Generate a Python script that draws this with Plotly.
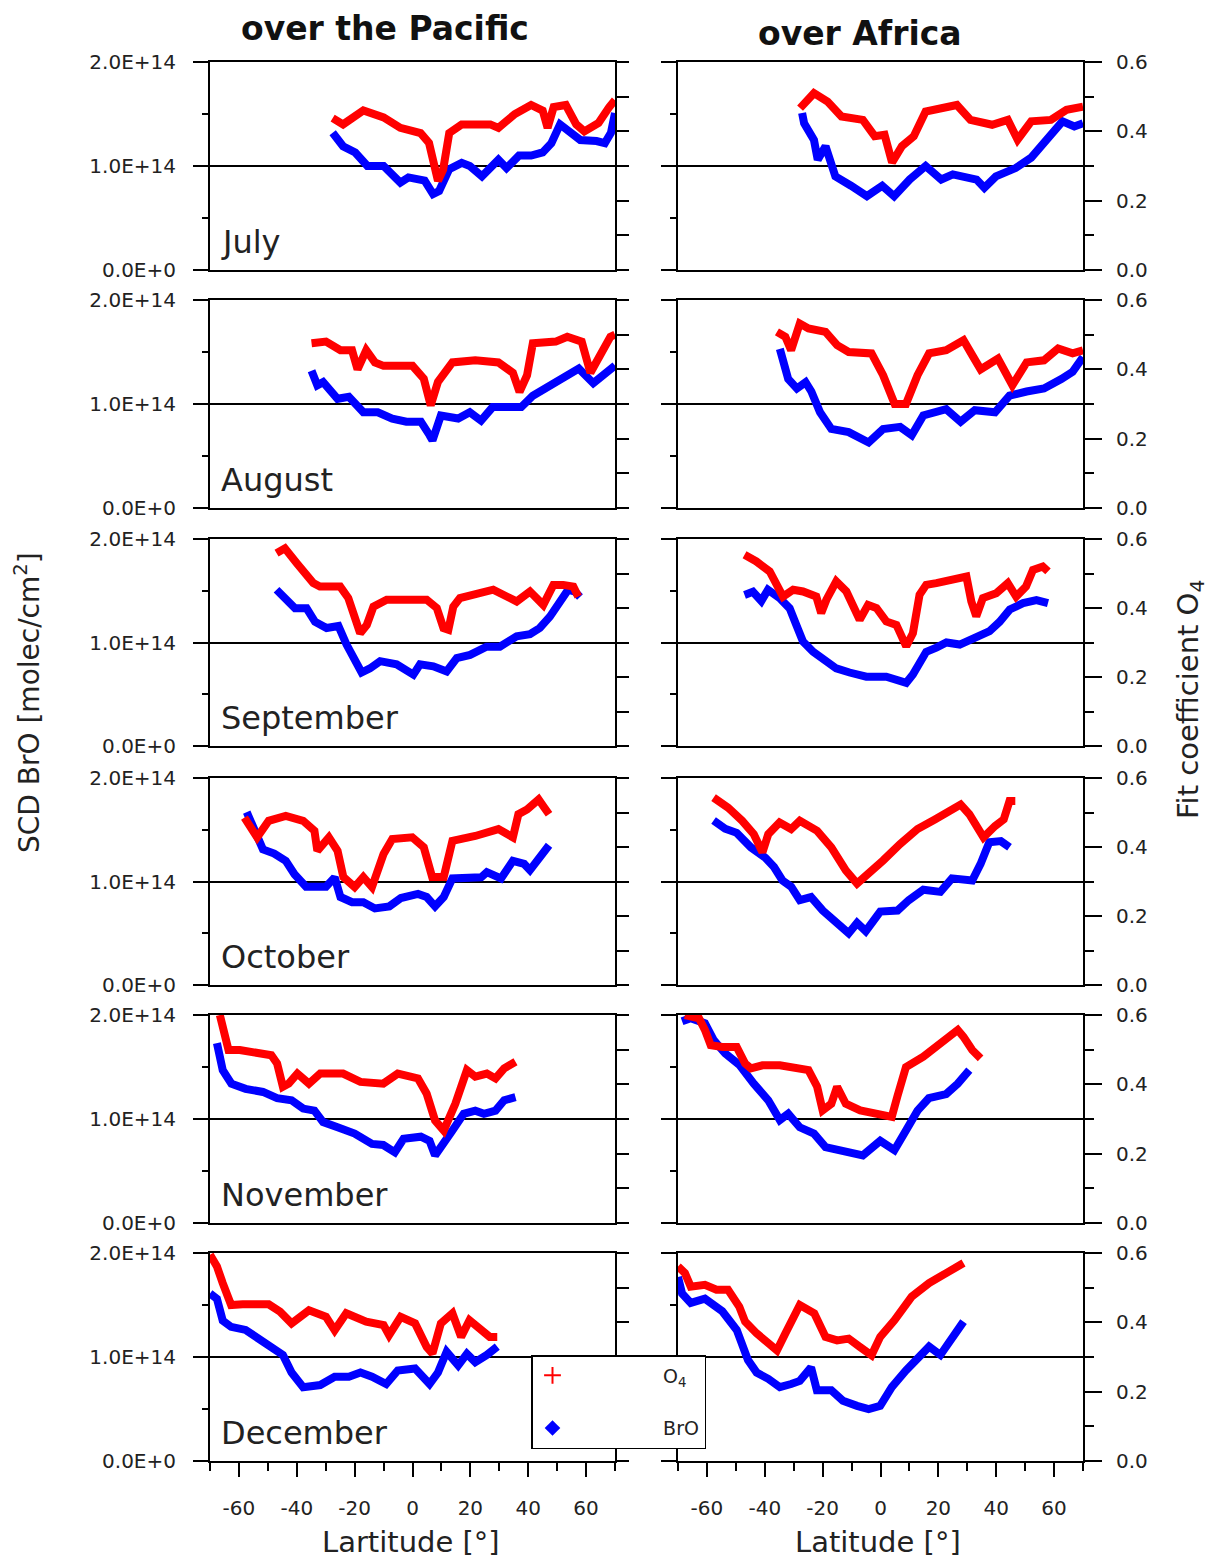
import plotly.graph_objects as go

# ---------------------------------------------------------------------------
# Data: latitude [deg] vs. BrO slant column (in units of 1e14 molec/cm2)
# and O4 fit coefficient, monthly means over the Pacific and over Africa
# ---------------------------------------------------------------------------
months = ["July", "August", "September", "October", "November", "December"]
regions = ["over the Pacific", "over Africa"]

# July
pac_jul_o4_lat = [-27.6, -24, -17, -10, -4.2, 2.8, 5.7, 7.8, 8.8, 10.6, 12.7, 17, 26.9, 29.7, 35.4, 41, 45, 46.7, 48.8, 53, 56.6, 59.4, 64.3, 68, 70]
pac_jul_o4 = [.438, .42, .46, .44, .41, .395, .367, .30, .257, .29, .395, .42, .42, .41, .45, .476, .46, .41, .47, .476, .42, .40, .424, .47, .49]
pac_jul_bro_lat = [-27.6, -24, -19.8, -15.6, -10, -7.1, -4.2, -1.4, 4.2, 7.1, 9.2, 12.7, 17, 19.8, 24, 29.7, 32.5, 36.8, 41, 45, 48, 51, 53.7, 58, 63.6, 66.5, 68.6, 70]
pac_jul_bro = [1.32, 1.19, 1.13, 1.0, 1.0, .92, .84, .89, .86, .73, .76, .97, 1.03, 1.0, .90, 1.06, .98, 1.10, 1.10, 1.13, 1.22, 1.40, 1.35, 1.25, 1.24, 1.22, 1.32, 1.51]
afr_jul_o4_lat = [-27.8, -23, -18.3, -13.5, -6.1, -2, 1.4, 4, 7.4, 11.5, 15.6, 21, 26.4, 31.1, 38.6, 44, 47.4, 52.1, 58.9, 64.3, 70]
afr_jul_o4 = [.467, .51, .486, .443, .433, .386, .39, .31, .357, .386, .457, .467, .476, .433, .419, .433, .376, .429, .433, .462, .471]
afr_jul_bro_lat = [-27.1, -26.4, -23, -21.7, -19, -15.6, -10.2, -4.7, .6, 4.7, 10.1, 15.6, 21, 25, 33.2, 35.9, 39.9, 46.7, 52.1, 57.6, 62.9, 67, 70]
afr_jul_bro = [1.51, 1.41, 1.25, 1.06, 1.19, .90, .81, .71, .81, .71, .87, 1.0, .87, .92, .87, .79, .90, .98, 1.08, 1.25, 1.43, 1.38, 1.41]

# August
pac_aug_o4_lat = [-34.9, -29.9, -24.9, -20.9, -19, -16, -13, -10, 0, 3.9, 6.3, 8.8, 13.8, 21.7, 29.7, 34.7, 37, 39.6, 41.6, 49.5, 53.5, 58.5, 61.5, 65.4, 68.4, 70]
pac_aug_o4 = [.475, .48, .455, .455, .40, .455, .42, .41, .41, .373, .296, .364, .42, .426, .42, .39, .335, .383, .475, .48, .494, .48, .39, .45, .494, .5]
pac_aug_bro_lat = [-34.9, -32.9, -30.9, -25.9, -22, -17, -12, -7, -2.1, 2.9, 5.9, 6.9, 9.8, 15.8, 19.8, 23.7, 27.7, 37.6, 41.6, 47.6, 53.5, 57.5, 62.5, 65.4, 70]
pac_aug_bro = [1.32, 1.18, 1.21, 1.05, 1.07, .92, .92, .86, .83, .83, .70, .65, .89, .86, .92, .84, .97, .97, 1.08, 1.18, 1.28, 1.34, 1.20, 1.26, 1.37]
afr_aug_o4_lat = [-35.8, -32.9, -30.9, -27.9, -24.9, -19, -15, -11, -3.1, .9, 4.9, 8.8, 12.8, 16.8, 22.7, 28.7, 31.7, 34.6, 40.6, 45.6, 50.5, 56.5, 61.4, 66.4, 70]
afr_aug_o4 = [.508, .494, .455, .532, .518, .508, .47, .45, .446, .383, .30, .30, .383, .446, .455, .484, .441, .40, .431, .354, .42, .426, .46, .446, .455]
afr_aug_bro_lat = [-34.8, -31.9, -28.9, -25.9, -23.9, -20.9, -17, -11, -4.1, .9, 6.8, 10.8, 14.8, 22.7, 27.7, 32.6, 39.6, 44.6, 50.5, 56.5, 62.5, 66.4, 70]
afr_aug_bro = [1.53, 1.24, 1.15, 1.21, 1.12, .92, .76, .73, .63, .76, .78, .70, .89, .95, .83, .94, .92, 1.08, 1.12, 1.15, 1.24, 1.31, 1.45]

# September
pac_sep_o4_lat = [-47, -44.1, -40, -34.3, -32, -25, -22.2, -19.9, -18.1, -15.8, -13.5, -8.9, .3, 4.9, 8.4, 10.7, 12.4, 14.1, 16.4, 23.3, 27.9, 36, 40.6, 45.2, 48.7, 52.1, 55.6, 57.3]
pac_sep_o4 = [.559, .573, .53, .472, .462, .462, .429, .361, .327, .351, .404, .424, .424, .424, .40, .342, .337, .404, .429, .443, .453, .419, .448, .409, .467, .467, .462, .433]
pac_sep_bro_lat = [-47, -43.5, -40.6, -36.6, -33.7, -29.7, -25.6, -22.8, -19.9, -17.6, -14.7, -11.2, -5.5, .3, 2.6, 7.2, 11.8, 15.3, 19.9, 25.6, 30.2, 36, 40.6, 44, 47.5, 51, 53.8, 56.2, 57.9]
pac_sep_bro = [1.51, 1.40, 1.33, 1.33, 1.20, 1.14, 1.16, .98, .82, .71, .75, .82, .79, .69, .79, .77, .72, .85, .88, .96, .96, 1.06, 1.08, 1.14, 1.25, 1.40, 1.51, 1.49, 1.44]
afr_sep_o4_lat = [-47, -42.9, -38.3, -33.7, -30.2, -26.8, -22.2, -20.5, -18.7, -15.3, -11.8, -7.2, -4.3, -1.4, 2, 5.5, 8.9, 11.2, 13.5, 15.8, 19.3, 25.1, 29.7, 31.4, 33.1, 35.4, 40, 44, 46.9, 50.3, 52.7, 56.1, 57.9]
afr_sep_o4 = [.554, .535, .506, .433, .453, .448, .433, .385, .424, .477, .448, .366, .409, .40, .361, .351, .289, .327, .438, .467, .472, .482, .491, .419, .376, .429, .443, .472, .433, .462, .51, .52, .506]
afr_sep_bro_lat = [-47, -44.1, -41.2, -38.9, -34.9, -31.4, -29.1, -26.8, -23.3, -19.9, -15.3, -10.7, -4.9, 2, 5.5, 8.9, 11.2, 13.5, 15.8, 19.3, 22.8, 27.4, 33.1, 37.7, 41.2, 44.7, 49.3, 53.9, 57.9]
afr_sep_bro = [1.46, 1.49, 1.40, 1.51, 1.43, 1.33, 1.17, 1.01, .91, .85, .75, .71, .67, .67, .64, .61, .69, .82, .91, .95, 1.0, .98, 1.06, 1.11, 1.20, 1.32, 1.38, 1.41, 1.38]

# October
pac_oct_o4_lat = [-58.1, -55.7, -53.7, -49.7, -43.8, -37.8, -33.9, -32.9, -28.9, -25.9, -23.9, -20, -17, -14, -10, -7, -.1, 3.9, 6.8, 10.8, 13.8, 21.7, 29.7, 34.7, 36.6, 39.6, 43.6, 45.6, 47.2]
pac_oct_o4 = [.485, .456, .428, .476, .49, .476, .447, .389, .428, .389, .313, .284, .313, .284, .38, .423, .428, .399, .313, .313, .418, .432, .452, .428, .495, .509, .538, .514, .495]
pac_oct_bro_lat = [-57.3, -54.7, -51.7, -47.8, -43.8, -40.8, -36.8, -29.9, -26.9, -24.9, -20.9, -17, -13, -8, -4, 1.9, 4.9, 7.8, 10.8, 13.8, 19.7, 23.7, 25.7, 30.6, 34.7, 38.6, 40.6, 43.6, 47.2]
pac_oct_bro = [1.67, 1.49, 1.31, 1.27, 1.20, 1.07, .95, .95, 1.04, .85, .80, .80, .74, .76, .84, .88, .85, .76, .85, 1.03, 1.03, 1.04, 1.09, 1.03, 1.20, 1.17, 1.11, 1.22, 1.35]
afr_oct_o4_lat = [-57.7, -52.7, -47.8, -43.8, -40.8, -38.8, -34.9, -30.9, -27.9, -21.9, -17, -12, -8.1, -4.1, .9, 6.8, 12.8, 18.8, 22.7, 27.7, 30.7, 35.6, 39.6, 42.6, 44.6, 46.6]
afr_oct_o4 = [.543, .514, .476, .437, .385, .437, .471, .452, .476, .447, .399, .332, .294, .322, .361, .409, .452, .48, .50, .523, .495, .428, .461, .48, .533, .533]
afr_oct_bro_lat = [-57.7, -53.7, -49.7, -44.8, -39.8, -36.8, -33.9, -30.9, -27.9, -24, -20, -15, -11, -8.1, -5.1, -.1, 5.9, 9.8, 14.8, 20.7, 24.7, 31.7, 34.6, 37.6, 41.6, 44.6]
afr_oct_bro = [1.59, 1.51, 1.47, 1.33, 1.23, 1.14, 1.01, .95, .82, .85, .72, .61, .50, .60, .52, .71, .72, .82, .92, .90, 1.03, 1.01, 1.17, 1.38, 1.39, 1.33]

# November
pac_nov_o4_lat = [-66.6, -65.6, -63.6, -59.7, -53.7, -48.8, -46.8, -44.8, -42.8, -39.8, -35.8, -31.9, -24, -18, -10.1, -5.1, 1.9, 4.9, 7.8, 10.8, 14.8, 18.8, 21.7, 25.7, 28.7, 31.7, 35.6]
pac_nov_o4 = [.60, .561, .499, .499, .489, .484, .46, .393, .402, .431, .402, .431, .431, .407, .402, .431, .417, .373, .296, .267, .344, .441, .422, .431, .417, .446, .465]
pac_nov_bro_lat = [-67.6, -65.6, -62.6, -57.7, -51.7, -46.8, -41.8, -37.8, -33.9, -30.9, -25.9, -20, -14, -10.1, -6.1, -3.1, 2.9, 5.9, 7.8, 10.8, 13.8, 17.7, 21.7, 24.7, 28.7, 31.7, 35.6]
pac_nov_bro = [1.73, 1.47, 1.34, 1.29, 1.26, 1.20, 1.18, 1.10, 1.08, .97, .92, .86, .76, .75, .68, .81, .83, .79, .65, .76, .89, 1.05, 1.08, 1.05, 1.08, 1.18, 1.21]
afr_nov_o4_lat = [-67.6, -62.7, -60.7, -58.7, -54.7, -49.7, -46.8, -44.8, -40.8, -34.8, -24.9, -21.9, -20, -17, -15, -12, -7, -2.1, 3.9, 5.8, 8.8, 14.8, 18.8, 22.7, 26.7, 28.7, 31.7, 34.6]
afr_nov_o4 = [.60, .59, .557, .513, .508, .508, .46, .446, .455, .455, .441, .393, .325, .344, .393, .344, .325, .315, .306, .364, .45, .48, .508, .528, .557, .537, .499, .475]
afr_nov_bro_lat = [-68.6, -65.6, -60.7, -57.7, -53.7, -48.8, -43.8, -38.8, -34.8, -31.9, -27.9, -23, -19, -13, -6.1, -.1, 4.8, 8.8, 12.8, 16.7, 22.7, 26.7, 30.7]
afr_nov_bro = [1.94, 1.97, 1.92, 1.76, 1.63, 1.52, 1.34, 1.18, .99, 1.05, .92, .86, .73, .70, .65, .79, .70, .89, 1.08, 1.20, 1.24, 1.34, 1.47]

# December
pac_dec_o4_lat = [-70, -67.6, -65.6, -62.7, -58.7, -49.7, -45.8, -41.8, -35.8, -29.9, -26.9, -22.9, -16, -10, -8.1, -4.1, .9, 4.9, 6.9, 9.8, 13.8, 16.8, 19.7, 23.7, 26.7, 29.3]
pac_dec_o4 = [.595, .561, .513, .45, .452, .452, .431, .397, .435, .416, .377, .426, .402, .392, .363, .416, .397, .329, .31, .397, .426, .358, .406, .382, .358, .358]
pac_dec_bro_lat = [-70, -67.6, -65.6, -62.7, -57.7, -53.7, -48.8, -44.8, -41.8, -37.8, -31.9, -26.9, -22, -18, -14, -9.1, -5.1, .9, 5.9, 8.8, 11.8, 15.8, 18.8, 21.7, 25.7, 29.3]
pac_dec_bro = [1.61, 1.56, 1.35, 1.29, 1.26, 1.19, 1.11, 1.02, .85, .71, .73, .81, .81, .85, .81, .74, .87, .89, .74, .85, 1.05, .92, 1.03, .95, 1.02, 1.10]
afr_dec_o4_lat = [-70, -67.6, -65.6, -60.7, -56.7, -52.7, -48.8, -46.8, -42.8, -38.8, -35.8, -32.9, -27.9, -22.9, -19, -15, -11, -7.1, -3.1, -.1, 4.8, 10.8, 16.8, 22.7, 28.7]
afr_dec_o4 = [.561, .542, .503, .508, .494, .494, .445, .402, .368, .341, .319, .368, .45, .426, .358, .348, .353, .329, .305, .358, .406, .474, .513, .542, .571]
afr_dec_bro_lat = [-70, -68.6, -65.6, -60.7, -54.7, -49.7, -45.8, -42.8, -38.8, -34.8, -30.9, -27.9, -24, -22, -17, -13, -8.1, -4.1, -.1, 3.9, 8.8, 12.8, 16.8, 20.7, 24.7, 28.7]
afr_dec_bro = [1.77, 1.61, 1.52, 1.56, 1.44, 1.26, .97, .85, .79, .71, .74, .77, .90, .68, .68, .58, .53, .50, .53, .71, .87, .98, 1.10, 1.02, 1.19, 1.34]

# Axis ticks
bro_tickvals = [0, 1e14, 2e14]
bro_ticktext = ["0.0E+0", "1.0E+14", "2.0E+14"]
o4_tickvals = [0.0, 0.2, 0.4, 0.6]
o4_ticktext = ["0.0", "0.2", "0.4", "0.6"]
lat_tickvals = [-60, -40, -20, 0, 20, 40, 60]
lat_ticktext = ["-60", "-40", "-20", "0", "20", "40", "60"]

# panel table: (row, column) -> (bro_lat, bro, o4_lat, o4)
panels = {
    (0, 0): (pac_jul_bro_lat, pac_jul_bro, pac_jul_o4_lat, pac_jul_o4),
    (0, 1): (afr_jul_bro_lat, afr_jul_bro, afr_jul_o4_lat, afr_jul_o4),
    (1, 0): (pac_aug_bro_lat, pac_aug_bro, pac_aug_o4_lat, pac_aug_o4),
    (1, 1): (afr_aug_bro_lat, afr_aug_bro, afr_aug_o4_lat, afr_aug_o4),
    (2, 0): (pac_sep_bro_lat, pac_sep_bro, pac_sep_o4_lat, pac_sep_o4),
    (2, 1): (afr_sep_bro_lat, afr_sep_bro, afr_sep_o4_lat, afr_sep_o4),
    (3, 0): (pac_oct_bro_lat, pac_oct_bro, pac_oct_o4_lat, pac_oct_o4),
    (3, 1): (afr_oct_bro_lat, afr_oct_bro, afr_oct_o4_lat, afr_oct_o4),
    (4, 0): (pac_nov_bro_lat, pac_nov_bro, pac_nov_o4_lat, pac_nov_o4),
    (4, 1): (afr_nov_bro_lat, afr_nov_bro, afr_nov_o4_lat, afr_nov_o4),
    (5, 0): (pac_dec_bro_lat, pac_dec_bro, pac_dec_o4_lat, pac_dec_o4),
    (5, 1): (afr_dec_bro_lat, afr_dec_bro, afr_dec_o4_lat, afr_dec_o4),
}

# ---------------------------------------------------------------------------
# Page geometry (pixels)
# ---------------------------------------------------------------------------
W, H = 1214, 1560
col_px = [(210, 615), (678, 1083)]
row_px = [(62, 270), (300, 508), (539, 746), (778, 985), (1015, 1223), (1253, 1461)]

FONT = "DejaVu Sans"
INK = "#1a1a1a"
RED = "#ff0000"
BLUE = "#0000ff"


def px_x(p):
    return p / W


def px_y(p):
    return 1 - p / H


def ref(prefix, k):
    return prefix if k == 1 else f"{prefix}{k}"


fig = go.Figure()
layout = dict(
    width=W, height=H,
    margin=dict(l=0, r=0, t=0, b=0, pad=0, autoexpand=False),
    paper_bgcolor="white", plot_bgcolor="white",
    showlegend=True,
    font=dict(family=FONT, color=INK),
)

tick_font = dict(family=FONT, size=20, color="#222222")

for (r, c), (bro_lat, bro, o4_lat, o4) in panels.items():
    k = r * 2 + c + 1
    k2 = k + 12
    x0, x1 = col_px[c]
    t, b = row_px[r]
    bottom_row = r == len(row_px) - 1

    xaxis = dict(
        domain=[px_x(x0), px_x(x1)],
        anchor=ref("y", k),
        range=[-70, 70],
        automargin=False,
        showline=True, linecolor="black", linewidth=2, mirror=True,
        showgrid=False, zeroline=False,
    )
    if bottom_row:
        xaxis.update(
            tickmode="array", tickvals=lat_tickvals, ticktext=lat_ticktext,
            ticks="outside", ticklen=14, tickwidth=2, tickcolor="black",
            minor=dict(dtick=10, tick0=0, ticks="outside",
                       ticklen=8, tickwidth=2, tickcolor="black"),
            tickfont=tick_font, ticklabelstandoff=14,
        )
    else:
        xaxis.update(showticklabels=False, ticks="")
    layout[f"xaxis{'' if k == 1 else k}"] = xaxis

    layout[f"yaxis{'' if k == 1 else k}"] = dict(
        domain=[px_y(b), px_y(t)],
        anchor=ref("x", k),
        side="left",
        range=[0, 2e14],
        automargin=False,
        showline=True, linecolor="black", linewidth=2,
        showgrid=True, gridcolor="black", gridwidth=1.5,
        zeroline=False,
        tickmode="array", tickvals=bro_tickvals, ticktext=bro_ticktext,
        showticklabels=(c == 0),
        ticks="outside", ticklen=15, tickwidth=2, tickcolor="black",
        minor=dict(dtick=0.5e14, tick0=0, ticks="outside", ticklen=6,
                   tickwidth=2, tickcolor="black"),
        tickfont=tick_font,
        ticklabelstandoff=13,
    )
    layout[f"yaxis{k2}"] = dict(
        overlaying=ref("y", k),
        anchor=ref("x", k),
        side="right",
        range=[0, 0.6],
        automargin=False,
        showline=True, linecolor="black", linewidth=2,
        showgrid=False, zeroline=False,
        tickmode="array", tickvals=o4_tickvals, ticktext=o4_ticktext,
        showticklabels=(c == 1),
        ticks="outside", ticklen=17 if c == 1 else 12, tickwidth=2, tickcolor="black",
        minor=dict(dtick=0.1, tick0=0, ticks="outside",
                   ticklen=9 if c == 1 else 12, tickwidth=2, tickcolor="black"),
        tickfont=tick_font,
        ticklabelstandoff=10,
    )

    # BrO slant columns (left axis)
    fig.add_trace(go.Scatter(
        x=bro_lat, y=[v * 1e14 for v in bro],
        xaxis=ref("x", k), yaxis=ref("y", k),
        mode="lines", line=dict(color=BLUE, width=8),
        showlegend=False, hoverinfo="skip",
    ))
    # O4 fit coefficient (right axis)
    fig.add_trace(go.Scatter(
        x=o4_lat, y=o4,
        xaxis=ref("x", k), yaxis=f"y{k2}",
        mode="lines", line=dict(color=RED, width=8),
        showlegend=False, hoverinfo="skip",
    ))

# legend entries
pad = "\u00a0" * 15
fig.add_trace(go.Scatter(
    x=[None], y=[None], mode="markers", name=pad + "O<sub>4</sub>",
    legendgroup="o4",
    marker=dict(symbol="cross-thin", size=16, color=RED,
                line=dict(color=RED, width=4)),
))
fig.add_trace(go.Scatter(
    x=[None], y=[None], mode="markers", name=pad + "BrO",
    legendgroup="bro",
    marker=dict(symbol="diamond", size=16, color=BLUE),
))

layout["legend"] = dict(
    x=px_x(531), y=px_y(1355), xanchor="left", yanchor="top",
    bgcolor="white", bordercolor="black", borderwidth=1.5,
    font=dict(family=FONT, size=19, color="#222222"),
    tracegroupgap=25, traceorder="grouped",
    itemsizing="constant",
)

annotations = []
# column titles
annotations.append(dict(text="<b>over the Pacific</b>", x=px_x(385), y=px_y(28),
                        xref="paper", yref="paper", showarrow=False,
                        font=dict(family=FONT, size=33, color="#111111"),
                        xanchor="center", yanchor="middle"))
annotations.append(dict(text="<b>over Africa</b>", x=px_x(860), y=px_y(33),
                        xref="paper", yref="paper", showarrow=False,
                        font=dict(family=FONT, size=33, color="#111111"),
                        xanchor="center", yanchor="middle"))
# month labels
for r, name in enumerate(months):
    annotations.append(dict(text=name, x=px_x(219), y=px_y(row_px[r][1] - 28),
                            xref="paper", yref="paper", showarrow=False,
                            font=dict(family=FONT, size=32, color="#222222"),
                            xanchor="left", yanchor="middle"))
# axis titles
annotations.append(dict(text="SCD BrO [molec/cm<sup>2</sup>]", x=px_x(28), y=px_y(703),
                        xref="paper", yref="paper", showarrow=False, textangle=-90,
                        font=dict(family=FONT, size=28, color="#222222"),
                        xanchor="center", yanchor="middle"))
annotations.append(dict(text="Fit coefficient O<sub>4</sub>", x=px_x(1190), y=px_y(700),
                        xref="paper", yref="paper", showarrow=False, textangle=-90,
                        font=dict(family=FONT, size=29, color="#222222"),
                        xanchor="center", yanchor="middle"))
annotations.append(dict(text="Lartitude [°]", x=px_x(411), y=px_y(1542),
                        xref="paper", yref="paper", showarrow=False,
                        font=dict(family=FONT, size=29, color="#222222"),
                        xanchor="center", yanchor="middle"))
annotations.append(dict(text="Latitude [°]", x=px_x(878), y=px_y(1542),
                        xref="paper", yref="paper", showarrow=False,
                        font=dict(family=FONT, size=29, color="#222222"),
                        xanchor="center", yanchor="middle"))
layout["annotations"] = annotations

fig.update_layout(**layout)
fig.write_html("out.html")
